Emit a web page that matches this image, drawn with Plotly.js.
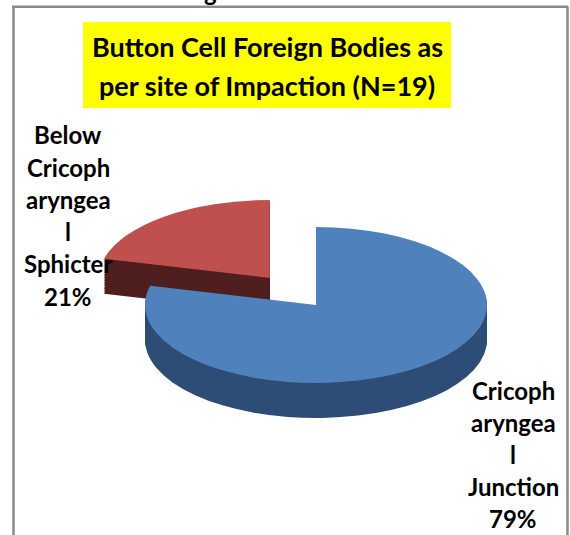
<!DOCTYPE html>
<html><head><meta charset="utf-8">
<script src="https://cdn.plot.ly/plotly-3.0.1.min.js"></script>
<style>
html,body{margin:0;padding:0;width:570px;height:535px;overflow:hidden;background:#fff;}
#pie{position:absolute;left:-40px;top:0;width:720px;height:1100px;transform:scaleY(0.456);transform-origin:0 0;}
#over{position:absolute;left:0;top:0;width:570px;height:535px;}
</style></head><body>
<div id="pie"></div><div id="over"></div>
<script>
// ---- data ----
const categories = ["Cricopharyngeal Junction", "Below Cricopharyngeal Sphicter"];
const counts = [15, 4];
const labelLines = [["Cricoph", "aryngea", "l", "Junction"], ["Below", "Cricoph", "aryngea", "l", "Sphicter"]];
const titleLines = ["Button Cell Foreign Bodies as", "per site of Impaction (N=19)"];
const topColors = ["#4F81BD", "#C0504D"];
const sideColors = ["#2E4D76", "#4F1F1F"];
const pulls = [0, 0.44];

// ---- pseudo-3D pie geometry (local, unsquashed coords) ----
const K = 0.456, PW = 720, PH = 1100;
const cxL = 356, cyL = 305 / K, R = 171;
const half = R * (1 + Math.max(...pulls));
const depth = 35 / K, N = 22;

function pieTrace(shift, colors, hover) {
  const cy = cyL + shift;
  return {
    type: 'pie', values: counts, labels: categories, sort: false,
    direction: 'counterclockwise', rotation: 0, pull: pulls,
    marker: {colors: colors, line: {width: 0}},
    textinfo: 'none', hoverinfo: hover ? 'label+percent' : 'skip', showlegend: false,
    domain: {x: [(cxL - half) / PW, (cxL + half) / PW], y: [1 - (cy + half) / PH, 1 - (cy - half) / PH]}
  };
}
const traces = [];
for (let j = N; j >= 1; j--) traces.push(pieTrace(depth * j / N, sideColors, false));
traces.push(pieTrace(0, topColors, true));

Plotly.newPlot('pie', traces, {
  width: PW, height: PH, margin: {l: 0, r: 0, t: 0, b: 0},
  paper_bgcolor: 'rgba(0,0,0,0)', showlegend: false
}, {staticPlot: true});

// ---- overlay: frame, title, labels ----
const W = 570, H = 535;
const px = x => x / W, py = y => 1 - y / H;
const total = counts.reduce((a, b) => a + b, 0);
const labelPos = [{x: 513, y: 390}, {x: 68, y: 135}];
const lineStep = 32.2;
const labelFont = {family: 'Lato, "Open Sans", sans-serif', size: 24, color: '#000', weight: 'bold'};
const titleFont = {family: 'Lato, "Open Sans", sans-serif', size: 27, color: '#000', weight: 'bold'};

const annotations = [];
titleLines.forEach((t, i) => annotations.push({
  text: '<b>' + t + '</b>', x: px(267), y: py(47 + i * 38), xref: 'paper', yref: 'paper',
  xanchor: 'center', yanchor: 'middle', showarrow: false, font: titleFont
}));
labelLines.forEach((lines, k) => {
  const all = lines.concat([Math.round(100 * counts[k] / total) + '%']);
  all.forEach((t, i) => annotations.push({
    text: '<b>' + t + '</b>', x: px(labelPos[k].x), y: py(labelPos[k].y + i * lineStep),
    xref: 'paper', yref: 'paper', xanchor: 'center', yanchor: 'middle', showarrow: false, font: labelFont,
    borderpad: 0
  }));
});
annotations.push({text: '<b>g</b>', x: px(210), y: py(-9), xref: 'paper', yref: 'paper',
  xanchor: 'center', yanchor: 'middle', showarrow: false,
  font: {family: 'Lato, "Open Sans", sans-serif', size: 24, color: '#000', weight: 'bold'}});

const frame = {type: 'line', xref: 'paper', yref: 'paper', line: {color: '#8a8a8a', width: 2.5}};
const shapes = [
  {type: 'rect', xref: 'paper', yref: 'paper', x0: px(83), x1: px(451), y0: py(22), y1: py(108),
   fillcolor: '#FFFF00', line: {width: 0}, layer: 'below'},
  Object.assign({}, frame, {x0: px(13.5), x1: px(13.5), y0: py(6.5), y1: py(540)}),
  Object.assign({}, frame, {x0: px(12), x1: px(568), y0: py(6.8), y1: py(6.8)}),
  Object.assign({}, frame, {x0: px(567.5), x1: px(567.5), y0: py(6.5), y1: py(540)})
];

Plotly.newPlot('over', [], {
  width: W, height: H, margin: {l: 0, r: 0, t: 0, b: 0},
  paper_bgcolor: 'rgba(0,0,0,0)', plot_bgcolor: 'rgba(0,0,0,0)',
  xaxis: {visible: false}, yaxis: {visible: false},
  shapes: shapes, annotations: annotations, showlegend: false
}, {staticPlot: true});
</script></body></html>
